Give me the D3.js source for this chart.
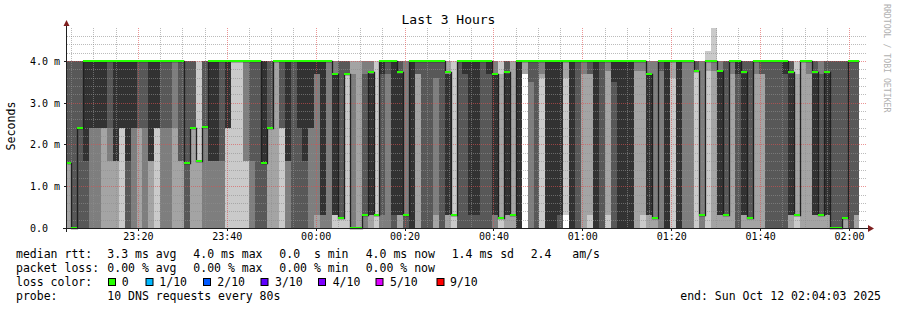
<!DOCTYPE html>
<html>
<head>
<meta charset="utf-8">
<script src="https://cdn.jsdelivr.net/npm/d3@7"></script>
<style>
  body { margin: 0; background: #ffffff; }
  text { font-family: "DejaVu Sans Mono", monospace; fill: #000; white-space: pre; }
</style>
</head>
<body>
<svg id="chart" width="897" height="310"></svg>
<script>
// ---- data (values in ms) ----
var graphEnd = Date.UTC(2025, 9, 12, 2, 4, 3);
var graphStart = graphEnd - 3 * 3600 * 1000;
var firstStepEnd = graphStart + 58500; // first rrd step boundary
var stepMs = 80 * 1000;

var median = [
  1.55, 0, 2.4, 4, 4, 4, 4, 4, 4, 4, 4, 4, 4, 4, 4, 4, 4, 4, 4, 4,
  1.55, 2.4, 1.6, 2.43, 4, 4, 4, 4, 4, 4, 4, 4, 4, 1.55, 2.4, 4, 4, 4, 4, 4,
  4, 4, 4, 4, 4, 3.7, 0.25, 3.7, 0, 0, 0.3, 3.73, 0.3, 4, 4, 4, 3.73, 0.3, 4, 4,
  4, 4, 4, 4, 3.73, 0.3, 4, 4, 4, 4, 4, 4, 3.7, 0.25, 3.73, 0.3, 4, 4, 4, 4,
  4, 4, 4, 4, 4, 4, 4, 4, 4, 4, 4, 4, 4, 4, 4, 4, 4, 4, 3.7, 0.25,
  4, 4, 4, 4, 4, 4, 3.75, 0.3, 4, 4, 3.75, 0.3, 4, 4, 3.73, 0.25, 4, 4, 4, 4,
  4, 4, 3.73, 0.3, 4, 4, 3.73, 0.3, 3.73, 0, 0, 0.25, 4, 4
];

// ten sorted ping times per step
var pings = [
  [0,0,1.55,1.55,1.55,1.55,4,4,4,4],
  [0,0,0,0,0,0,4,4,4,4],
  [0,0,0,0,2.4,2.4,4,4,4,4],
  [0,0,0,0,1.6,4,4,4,4,4],
  [0,0,0,2.4,2.4,4,4,4,4,4],
  [0,0,0,2.4,2.4,4,4,4,4,4],
  [0,0,2.4,2.4,2.4,4,4,4,4,4],
  [0,0,1.6,2.4,4,4,4,4,4,4],
  [0,0,1.6,1.6,1.6,4,4,4,4,4],
  [0,2.4,2.4,2.4,2.4,4,4,4,4,4],
  [0,0,0,0,1.6,4,4,4,4,4],
  [0,0,0,2.4,2.4,4,4,4,4,4],
  [0,0,2.4,2.4,4,4,4,4,4,4],
  [0,0,0,2.4,4,4,4,4,4,4],
  [0,0,1.6,1.6,1.6,4,4,4,4,4],
  [0,2.4,2.4,2.4,2.4,4,4,4,4,4],
  [0,0,0,2.4,4,4,4,4,4,4],
  [0,0,0,2.4,4,4,4,4,4,4],
  [0,0,2.4,4,4,4,4,4,4,4],
  [0,0,1.6,1.6,4,4,4,4,4,4],
  [0,0,0,0,1.55,1.55,4,4,4,4],
  [0,0,2.4,2.4,2.4,2.4,4,4,4,4],
  [0,0,1.6,1.6,1.6,1.6,1.6,1.6,1.6,4],
  [0,0,0,2.43,2.43,2.43,4,4,4,4],
  [0,0,0,1.6,1.6,4,4,4,4,4],
  [0,0,0,1.6,1.6,4,4,4,4,4],
  [0,0,0,1.6,4,4,4,4,4,4],
  [0,2.4,2.4,2.4,2.4,4,4,4,4,4],
  [0,4,4,4,4,4,4,4,4,4],
  [0,4,4,4,4,4,4,4,4,4],
  [0,1.6,1.6,4,4,4,4,4,4,4],
  [0,0,0,1.6,4,4,4,4,4,4],
  [0,0,0,0,4,4,4,4,4,4],
  [0,0,0,0,1.55,4,4,4,4,4],
  [0,0,2.4,2.4,2.4,2.4,4,4,4,4],
  [0,0,4,4,4,4,4,4,4,4],
  [0,2.4,2.4,2.4,4,4,4,4,4,4],
  [0,0,0,1.6,1.6,4,4,4,4,4],
  [0,0,0,0,4,4,4,4,4,4],
  [0,0,0,0,2.4,4,4,4,4,4],
  [0,0,0,0,1.6,4,4,4,4,4],
  [0,0,0,2.4,2.4,4,4,4,4,4],
  [0,0,0.3,3.7,3.7,4,4,4,4,4],
  [0,0,0,0.3,0.3,4,4,4,4,4],
  [0,0,0,4,4,4,4,4,4,4],
  [0,0.3,0.3,0.3,0.3,3.7,3.7,4,4,4],
  [0,0.25,0.25,0.25,0.25,0.25,4,4,4,4],
  [0,3.7,3.7,3.7,3.7,3.7,4,4,4,4],
  [0,0,0,0,0,0,0,3.7,4,4],
  [0,0,0,0,0,0,0,0,4,4],
  [0,0,0,0.3,0.3,0.3,3.7,4,4,4],
  [0,0,0.3,0.3,0.3,3.7,3.7,4,4,4],
  [0,0.3,0.3,0.3,0.3,0.3,0.3,0.3,0.3,4],
  [0,0,0,0.3,3.7,4,4,4,4,4],
  [0,0,0,3.7,4,4,4,4,4,4],
  [0,0,0,0,0.3,4,4,4,4,4],
  [0,0,0.3,0.3,0.3,3.7,4,4,4,4],
  [0,0,0,0,0.3,0.3,0.3,4,4,4],
  [0,0,0,0,0,4,4,4,4,4],
  [0,0,3.7,3.7,4,4,4,4,4,4],
  [0,0,0,0,4,4,4,4,4,4],
  [0,0,0,0,3.7,3.7,4,4,4,4],
  [0,0,0.3,3.6,4,4,4,4,4,4],
  [0,0,0,0,4,4,4,4,4,4],
  [0,0,0.3,0.3,0.3,3.7,3.7,3.7,4,4],
  [0,0.3,0.3,0.3,0.3,0.3,0.3,0.3,0.3,4],
  [0,0,0,0,4,4,4,4,4,4],
  [0,0,0,0,3.7,4,4,4,4,4],
  [0,0,0,0,0.3,4,4,4,4,4],
  [0,0,0,0,0.3,4,4,4,4,4],
  [0,0,0,0,4,4,4,4,4,4],
  [0,0,0,0,3.7,4,4,4,4,4],
  [0,0,0,0.3,0.3,3.7,3.7,4,4,4],
  [0,0.25,0.25,0.25,0.25,0.25,0.25,0.25,3.7,4],
  [0,0,0.3,0.3,0.3,3.7,4,4,4,4],
  [0,0,0.3,0.3,0.3,0.3,0.3,0.3,4,4],
  [0,0,0,0,0,4,4,4,4,4],
  [3.7,3.7,4,4,4,4,4,4,4,4],
  [0,0,0,3.5,4,4,4,4,4,4],
  [0,0,0,0,4,4,4,4,4,4],
  [0,3.6,3.7,4,4,4,4,4,4,4],
  [0,0,0,0,0,4,4,4,4,4],
  [0,0,0,0,0,4,4,4,4,4],
  [0,0,0,0,0.3,4,4,4,4,4],
  [0.3,3.6,4,4,4,4,4,4,4,4],
  [0,0,0,0,0,4,4,4,4,4],
  [0,0,0,0,4,4,4,4,4,4],
  [0,0,3.7,4,4,4,4,4,4,4],
  [0,0.3,3.7,3.7,4,4,4,4,4,4],
  [0,0,0,0,0,4,4,4,4,4],
  [0,0,0,0,4,4,4,4,4,4],
  [0,0.3,3.75,4,4,4,4,4,4,4],
  [0,0,0,0,3.5,4,4,4,4,4],
  [0,0,0,0,0,4,4,4,4,4],
  [0,0,0,0,0,4,4,4,4,4],
  [0,0,0,0,0,4,4,4,4,4],
  [0,0,3.75,4,4,4,4,4,4,4],
  [0,0.3,3.75,4,4,4,4,4,4,4],
  [0,0,0.3,0.3,0.3,3.7,3.7,4,4,4],
  [0,0,0.25,0.25,0.25,0.25,0.25,4,4,4],
  [0,0,0,3.75,4,4,4,4,4,4],
  [0,0,0,0,0,4,4,4,4,4],
  [0,3.6,4,4,4,4,4,4,4,4],
  [0,0,0,0,0,4,4,4,4,4],
  [0,0,0,4,4,4,4,4,4,4],
  [0,0,0,4,4,4,4,4,4,4],
  [0,3.75,3.75,3.75,3.75,3.75,4,4,4,4],
  [0,0,0,0.3,0.3,0.3,0.3,4,4,4],
  [0,3.75,4,4,4,4,4,4,4,4.24],
  [0,0,3.75,4,4,4,4,4,4,4.8],
  [0,0,0.3,0.3,0.3,3.75,3.75,4,4,4],
  [0,0,0.3,0.3,0.3,0.3,4,4,4,4],
  [0,0,3.7,4,4,4,4,4,4,4],
  [0,0,0,0,3.7,4,4,4,4,4],
  [0,0,0.3,0.3,0.3,3.7,4,4,4,4],
  [0,0,0.25,0.25,0.25,0.25,4,4,4,4],
  [0,0,3.7,4,4,4,4,4,4,4],
  [0,0,3.7,3.7,4,4,4,4,4,4],
  [0,0,0,0,4,4,4,4,4,4],
  [0,0,0,0,4,4,4,4,4,4],
  [0,0,0,0,4,4,4,4,4,4],
  [0,0,0,0,3.7,4,4,4,4,4],
  [0,0,0.3,0.3,0.3,3.7,4,4,4,4],
  [0,0.3,0.3,0.3,0.3,0.3,0.3,0.3,3.7,4],
  [0,0,4,4,4,4,4,4,4,4],
  [0,0,3.7,4,4,4,4,4,4,4],
  [0,0,0.3,0.3,0.3,3.7,4,4,4,4],
  [0,0,0.3,0.3,0.3,0.3,3.7,4,4,4],
  [0,0,0.3,0.3,0.3,3.7,4,4,4,4],
  [0,0,0,0,0,0,4,4,4,4],
  [0,0,0,0,0,0,4,4,4,4],
  [0,0,0.25,0.25,0.25,0.25,4,4,4,4],
  [0,0,0,0,4,4,4,4,4,4],
  [0,0,0.3,0.3,4,4,4,4,4,4]
];

var smokeColors = ["#cacaca", "#a4a4a4", "#7e7e7e", "#585858", "#323232"];
var lossLabels = ["0", "1/10", "2/10", "3/10", "4/10", "5/10", "9/10"];
var lossColors = ["#26ff00", "#00b8ff", "#0059ff", "#5e00ff", "#7e00ff", "#dd00ff", "#ff0000"];
var rttStats = ["3.3 ms avg", "4.0 ms max", "0.0  s min", "4.0 ms now", "1.4 ms sd", "2.4   am/s"];
var lossStats = ["0.00 % avg", "0.00 % max", "0.00 % min", "0.00 % now"];

// ---- chart ----
var svg = d3.select("#chart");
svg.append("rect").attr("width", 897).attr("height", 310).attr("fill", "#ffffff");

var x = d3.scaleUtc().domain([graphStart, graphEnd]).range([67, 867]);
var y = d3.scaleLinear().domain([0, 4.79]).range([228, 28]);

var cols = pings.map(function (p, i) {
  var end = firstStepEnd + i * stepMs;
  var start = i === 0 ? graphStart : end - stepMs;
  return { p: p, med: median[i], x0: Math.round(x(start)), x1: Math.round(x(end)) };
});

// smoke bands, outermost first
var smoke = svg.append("g").attr("shape-rendering", "crispEdges");
smokeColors.forEach(function (color, b) {
  smoke.append("g")
    .selectAll("rect")
    .data(cols.filter(function (d) { return d.p[9 - b] > d.p[b]; }))
    .enter()
    .append("rect")
    .attr("x", function (d) { return d.x0; })
    .attr("width", function (d) { return d.x1 - d.x0; })
    .attr("y", function (d) { return Math.round(y(d.p[9 - b])); })
    .attr("height", function (d) { return Math.round(y(d.p[b])) - Math.round(y(d.p[9 - b])); })
    .attr("fill", color);
});

// grid on top of the data
var grid = svg.append("g").attr("shape-rendering", "crispEdges").attr("stroke-dasharray", "1,1");
var minorTimes = d3.utcMinute.every(5).range(new Date(graphStart), new Date(graphEnd));
var majorTimes = d3.utcMinute.every(20).range(new Date(graphStart), new Date(graphEnd));
var yMinor = d3.range(1, 24).map(function (k) { return k * 0.2; }).filter(function (v) { return Math.abs(v - Math.round(v)) > 0.01; });
var yMajor = [1, 2, 3, 4];

grid.selectAll(".hmin").data(yMinor).enter().append("line")
  .attr("x1", 67).attr("x2", 867)
  .attr("y1", function (d) { return Math.round(y(d)) + 0.5; })
  .attr("y2", function (d) { return Math.round(y(d)) + 0.5; })
  .attr("stroke", "rgba(143,143,143,0.6)");
grid.selectAll(".vmin").data(minorTimes.filter(function (t) { return t.getUTCMinutes() % 20 !== 0; })).enter().append("line")
  .attr("x1", function (d) { return Math.round(x(d)) + 0.5; })
  .attr("x2", function (d) { return Math.round(x(d)) + 0.5; })
  .attr("y1", 28).attr("y2", 228)
  .attr("stroke", "rgba(143,143,143,0.6)");
grid.selectAll(".hmaj").data(yMajor).enter().append("line")
  .attr("x1", 67).attr("x2", 867)
  .attr("y1", function (d) { return Math.round(y(d)) + 0.5; })
  .attr("y2", function (d) { return Math.round(y(d)) + 0.5; })
  .attr("stroke", "rgba(222,79,79,0.6)");
grid.selectAll(".vmaj").data(majorTimes).enter().append("line")
  .attr("x1", function (d) { return Math.round(x(d)) + 0.5; })
  .attr("x2", function (d) { return Math.round(x(d)) + 0.5; })
  .attr("y1", 28).attr("y2", 228)
  .attr("stroke", "rgba(222,79,79,0.6)");

// median: dark step line, then loss-coloured band
var medLine = d3.line()
  .x(function (d) { return d[0]; })
  .y(function (d) { return d[1]; })
  .curve(d3.curveStepAfter);
var medPts = cols.map(function (d) { return [d.x0 + 0.5, Math.round(y(d.med)) + 0.5]; });
medPts.push([cols[cols.length - 1].x1 + 0.5, Math.round(y(cols[cols.length - 1].med)) + 0.5]);
svg.append("path")
  .attr("d", medLine(medPts))
  .attr("fill", "none")
  .attr("stroke", "#202020")
  .attr("stroke-width", 1.3);

svg.append("g").attr("shape-rendering", "crispEdges")
  .selectAll("rect")
  .data(cols)
  .enter()
  .append("rect")
  .attr("x", function (d) { return d.x0; })
  .attr("width", function (d) { return d.x1 - d.x0; })
  .attr("y", function (d) { return Math.round(y(d.med)) - 1; })
  .attr("height", 2)
  .attr("fill", lossColors[0]);

// axes
var xAxis = d3.axisBottom(x)
  .ticks(d3.utcMinute.every(20))
  .tickFormat(d3.utcFormat("%H:%M"))
  .tickSize(3)
  .tickPadding(2);
var gx = svg.append("g").attr("transform", "translate(0,228)").call(xAxis);
gx.select(".domain").remove();
gx.selectAll("line").attr("stroke", "#1f1f1f").attr("shape-rendering", "crispEdges");
gx.selectAll("text").attr("font-size", "10px").attr("font-family", "DejaVu Sans Mono").attr("dy", "0.71em");

var yAxis = d3.axisLeft(y)
  .tickValues([0, 1, 2, 3, 4])
  .tickFormat(function (v) { return v === 0 ? "0.0" : d3.format(".1f")(v) + " m"; })
  .tickSize(3);
var gy = svg.append("g").attr("transform", "translate(67,0)").call(yAxis);
gy.select(".domain").remove();
gy.selectAll("line").attr("stroke", "#1f1f1f").attr("shape-rendering", "crispEdges");
gy.selectAll("text")
  .attr("font-size", "10px")
  .attr("font-family", "DejaVu Sans Mono")
  .attr("text-anchor", "start")
  .attr("x", -37)
  .attr("dy", "0.35em");

svg.append("line").attr("x1", 63).attr("x2", 868).attr("y1", 228.5).attr("y2", 228.5)
  .attr("stroke", "#1f1f1f").attr("shape-rendering", "crispEdges");
svg.append("line").attr("x1", 66.5).attr("x2", 66.5).attr("y1", 232).attr("y2", 25)
  .attr("stroke", "#1f1f1f").attr("shape-rendering", "crispEdges");
svg.append("path").attr("d", "M868,225L868,232L874,228.5Z").attr("fill", "#7f1f1f");
svg.append("path").attr("d", "M63.5,26L69.5,26L66.5,20Z").attr("fill", "#7f1f1f");

// titles
svg.append("text").attr("x", 448.5).attr("y", 23.5).attr("text-anchor", "middle")
  .attr("font-size", "13px").text("Last 3 Hours");
svg.append("text").attr("transform", "translate(15,126) rotate(-90)").attr("text-anchor", "middle")
  .attr("font-size", "11.6px").text("Seconds");
svg.append("text").attr("transform", "translate(884,4) rotate(90)")
  .attr("font-size", "8.2px").style("fill", "#b0b0b0").text("RRDTOOL / TOBI OETIKER");

// legend
var lg = svg.append("g").attr("font-size", "11.5px");
var segX = [107.3, 193.3, 279.3, 365.7, 451.7, 530.7];
lg.append("text").attr("x", 16).attr("y", 257.7).text("median rtt:");
lg.selectAll(".rtt").data(rttStats).enter().append("text")
  .attr("x", function (d, i) { return segX[i]; }).attr("y", 257.7).text(function (d) { return d; });
lg.append("text").attr("x", 16).attr("y", 271.7).text("packet loss:");
lg.selectAll(".loss").data(lossStats).enter().append("text")
  .attr("x", function (d, i) { return segX[i]; }).attr("y", 271.7).text(function (d) { return d; });
lg.append("text").attr("x", 16).attr("y", 285.7).text("loss color:");
var boxX = [108.5, 146, 203.5, 261, 318.5, 376, 437];
var labX = [121.7, 159.3, 217.3, 275, 332.7, 390, 450];
lg.selectAll(".box").data(lossColors).enter().append("rect")
  .attr("x", function (d, i) { return boxX[i]; }).attr("y", 278.5)
  .attr("width", 7).attr("height", 7)
  .attr("fill", function (d) { return d; })
  .attr("stroke", "#000").attr("stroke-width", 1);
lg.selectAll(".lab").data(lossLabels).enter().append("text")
  .attr("x", function (d, i) { return labX[i]; }).attr("y", 285.7).text(function (d) { return d; });
lg.append("text").attr("x", 16).attr("y", 299.7).text("probe:");
lg.append("text").attr("x", 107.3).attr("y", 299.7).text("10 DNS requests every 80s");
lg.append("text").attr("x", 881).attr("y", 299.7).attr("text-anchor", "end").text("end: Sun Oct 12 02:04:03 2025");
</script>
</body>
</html>
